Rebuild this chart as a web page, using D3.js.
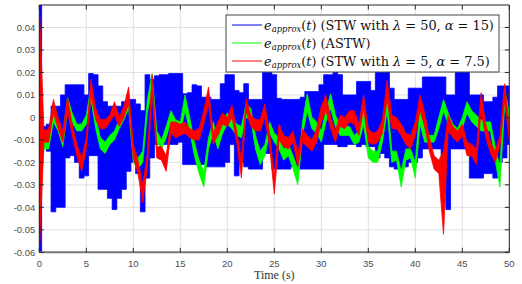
<!DOCTYPE html>
<html>
<head>
<meta charset="utf-8">
<script src="https://cdn.jsdelivr.net/npm/d3@7"></script>
<style>
  html, body { margin: 0; padding: 0; background: #fff; }
  svg { display: block; }
</style>
</head>
<body>
<div class="canvas"></div>
<script>
// time axis, one sample every 0.5 s
const time = d3.range(0, 50.001, 0.5);

// STW with lambda=50, alpha=15 : chattering band (upper / lower envelope)
const blueUpper = [
  0.05, -0.004, -0.003, 0.005, 0.005, 0.010, 0.0145, 0.0145, 0.0145, 0.0145,
  0.010, 0.0195, 0.019, 0.014, 0.007, 0.005, 0.005, 0.005, 0.007, 0.008,
  0.008, 0.006, 0.003, 0.019, 0.017, 0.0185, 0.019, 0.019, 0.0195, 0.0195,
  0.0195, 0.0105, 0.011, 0.0145, 0.014, 0.009, 0.009, 0.008, 0.008, 0.015,
  0.019, 0.019, 0.012, 0.011, 0.015, 0.008, 0.008, 0.008, 0.020, 0.020,
  0.019, 0.0085, 0.008, 0.008, 0.008, 0.008, 0.009, 0.0115, 0.0115, 0.0115,
  0.0145, 0.019, 0.019, 0.020, 0.019, 0.010, 0.010, 0.010, 0.016, 0.016,
  0.016, 0.012, 0.020, 0.020, 0.020, 0.013, 0.008, 0.008, 0.008, 0.013,
  0.013, 0.013, 0.018, 0.018, 0.018, 0.018, 0.018, 0.010, 0.010, 0.020,
  0.020, 0.020, 0.010, 0.010, 0.010, 0.007, 0.007, 0.009, 0.014, 0.014,
  0.014
];
const blueLower = [
  -0.06, -0.013, -0.015, -0.042, -0.040, -0.040, -0.018, -0.017, -0.020, -0.027,
  -0.026, -0.017, -0.017, -0.032, -0.032, -0.036, -0.041, -0.036, -0.032, -0.024,
  -0.020, -0.025, -0.042, -0.027, -0.018, -0.012, -0.012, -0.012, -0.012, -0.012,
  -0.011, -0.021, -0.021, -0.021, -0.021, -0.021, -0.022, -0.022, -0.022, -0.022,
  -0.020, -0.012, -0.026, -0.020, -0.022, -0.023, -0.023, -0.023, -0.016, -0.016,
  -0.023, -0.023, -0.023, -0.023, -0.022, -0.023, -0.023, -0.023, -0.023, -0.023,
  -0.023, -0.012, -0.012, -0.012, -0.013, -0.013, -0.012, -0.012, -0.013, -0.012,
  -0.013, -0.013, -0.018, -0.016, -0.018, -0.022, -0.023, -0.023, -0.022, -0.020,
  -0.020, -0.018, -0.014, -0.014, -0.014, -0.014, -0.030, -0.041, -0.014, -0.014,
  -0.014, -0.014, -0.027, -0.027, -0.027, -0.025, -0.025, -0.027, -0.020, -0.018,
  -0.012
];

// ASTW
const greenUpper = [
  0.000, -0.011, -0.010, 0.002, -0.002, -0.009, 0.009, 0.002, -0.003, -0.003,
  0.001, 0.014, 0.000, -0.009, -0.011, -0.008, -0.006, -0.001, 0.003, 0.009,
  -0.015, -0.018, -0.015, 0.008, 0.0195, -0.006, -0.010, -0.004, 0.003, -0.001,
  -0.002, 0.010, 0.000, -0.011, -0.019, -0.024, -0.009, -0.002, -0.009, -0.002,
  0.002, 0.000, -0.003, -0.004, 0.006, 0.004, -0.008, -0.015, -0.012, -0.002,
  -0.007, -0.009, -0.014, -0.012, -0.017, -0.023, -0.002, 0.0105, 0.000, -0.002,
  -0.006, 0.003, 0.0105, 0.001, -0.003, -0.004, -0.004, -0.008, -0.006, 0.004,
  -0.013, -0.015, -0.015, -0.006, 0.0095, -0.015, -0.015, -0.024, -0.014, -0.014,
  -0.020, 0.005, -0.005, -0.008, -0.008, 0.000, 0.008, 0.002, -0.003, -0.005,
  0.000, 0.007, 0.003, 0.001, -0.001, -0.002, -0.002, -0.013, -0.022, 0.013,
  0.002
];
const greenLower = [
  -0.035, -0.014, -0.014, -0.002, -0.006, -0.013, 0.003, -0.002, -0.006, -0.006,
  -0.003, 0.008, -0.005, -0.014, -0.016, -0.012, -0.010, -0.005, -0.001, 0.004,
  -0.020, -0.023, -0.020, 0.002, 0.013, -0.011, -0.014, -0.009, -0.002, -0.005,
  -0.007, 0.003, -0.006, -0.017, -0.025, -0.031, -0.014, -0.007, -0.014, -0.007,
  -0.003, -0.005, -0.008, -0.009, 0.000, -0.001, -0.014, -0.021, -0.017, -0.007,
  -0.011, -0.014, -0.019, -0.017, -0.023, -0.030, -0.008, 0.003, -0.005, -0.007,
  -0.011, -0.002, 0.004, -0.004, -0.008, -0.008, -0.008, -0.012, -0.011, -0.003,
  -0.018, -0.020, -0.020, -0.011, 0.003, -0.020, -0.019, -0.031, -0.019, -0.018,
  -0.027, -0.003, -0.011, -0.011, -0.011, -0.005, 0.003, -0.003, -0.008, -0.009,
  -0.005, 0.002, -0.002, -0.004, -0.006, -0.006, -0.006, -0.019, -0.031, 0.005,
  -0.003
];

// STW with lambda=5, alpha=7.5
const redUpper = [
  0.05, -0.006, -0.005, 0.008, 0.000, -0.006, 0.009, -0.003, -0.012, -0.018,
  -0.009, 0.017, 0.004, -0.001, -0.001, 0.001, 0.007, 0.000, 0.005, 0.0135,
  -0.012, -0.019, -0.030, -0.016, 0.019, -0.013, -0.013, -0.017, -0.002, -0.002,
  -0.003, -0.002, -0.005, -0.006, -0.005, 0.003, 0.0135, -0.007, -0.002, 0.002,
  0.000, 0.0055, -0.006, -0.019, 0.0085, 0.001, -0.001, -0.001, 0.006, -0.007,
  -0.026, -0.003, -0.008, -0.009, -0.006, -0.016, -0.005, -0.008, -0.010, -0.005,
  0.005, 0.010, 0.000, -0.006, 0.001, 0.000, 0.003, 0.003, -0.003, 0.010,
  -0.005, -0.007, -0.006, -0.001, 0.0165, 0.001, 0.000, -0.003, -0.007, -0.008,
  -0.002, 0.010, 0.002, -0.009, -0.017, -0.019, -0.015, 0.001, -0.004, -0.006,
  -0.003, -0.011, -0.012, -0.014, 0.011, -0.003, -0.011, -0.015, -0.008, 0.015,
  -0.004
];
const redLower = [
  -0.06, -0.011, -0.011, 0.002, -0.005, -0.011, 0.003, -0.008, -0.017, -0.024,
  -0.014, 0.010, -0.001, -0.005, -0.005, -0.002, 0.001, -0.004, 0.000, 0.006,
  -0.018, -0.025, -0.038, -0.022, 0.011, -0.018, -0.019, -0.024, -0.007, -0.009,
  -0.008, -0.007, -0.009, -0.010, -0.010, -0.003, 0.006, -0.012, -0.008, -0.003,
  -0.004, 0.000, -0.011, -0.027, 0.003, -0.004, -0.006, -0.006, 0.000, -0.013,
  -0.034, -0.010, -0.013, -0.014, -0.011, -0.022, -0.011, -0.013, -0.015, -0.011,
  -0.002, 0.003, -0.005, -0.011, -0.004, -0.005, -0.002, -0.003, -0.008, 0.004,
  -0.011, -0.012, -0.011, -0.007, 0.008, -0.005, -0.005, -0.008, -0.012, -0.014,
  -0.008, 0.003, -0.004, -0.015, -0.023, -0.025, -0.052, -0.006, -0.009, -0.011,
  -0.008, -0.017, -0.017, -0.021, 0.003, -0.009, -0.016, -0.020, -0.013, 0.007,
  -0.010
];

const xTicks = [0, 5, 10, 15, 20, 25, 30, 35, 40, 45, 50];
const xTickLabels = ["0", "5", "10", "15", "20", "25", "30", "35", "40", "45", "50"];
const yTicks = [-0.06, -0.05, -0.04, -0.03, -0.02, -0.01, 0, 0.01, 0.02, 0.03, 0.04];
const yTickLabels = ["-0.06", "-0.05", "-0.04", "-0.03", "-0.02", "-0.01", "0", "0.01", "0.02", "0.03", "0.04"];

const seriesNames = ["stw50", "astw", "stw5"];
const seriesColors = ["#0000ff", "#00ff00", "#ff0000"];
const legendLabels = ["(STW with λ = 50, α = 15)", "(ASTW)", "(STW with λ = 5, α = 7.5)"];

const dims = { width: 522, height: 284 };
const margin = { top: 5, right: 12.7, bottom: 31.7, left: 39.3 };
const plotW = dims.width - margin.left - margin.right;
const plotH = dims.height - margin.top - margin.bottom;

const svg = d3
  .select(".canvas")
  .append("svg")
  .attr("width", dims.width)
  .attr("height", dims.height);

const x = d3.scaleLinear().domain([0, 50]).range([margin.left, margin.left + plotW]);
const y = d3.scaleLinear().domain([-0.06, 0.05]).range([margin.top + plotH, margin.top]);

svg
  .append("clipPath")
  .attr("id", "plotClip")
  .append("rect")
  .attr("x", margin.left)
  .attr("y", margin.top)
  .attr("width", plotW)
  .attr("height", plotH);

// grid
const grid = svg.append("g").attr("stroke", "#e0e0e0").attr("stroke-width", 1);
grid
  .selectAll("line.gx")
  .data(xTicks)
  .join("line")
  .attr("class", "gx")
  .attr("x1", (d) => x(d))
  .attr("x2", (d) => x(d))
  .attr("y1", margin.top)
  .attr("y2", margin.top + plotH);
grid
  .selectAll("line.gy")
  .data(yTicks)
  .join("line")
  .attr("class", "gy")
  .attr("x1", margin.left)
  .attr("x2", margin.left + plotW)
  .attr("y1", (d) => y(d))
  .attr("y2", (d) => y(d));

// data
const series = [
  { upper: blueUpper, lower: blueLower, curve: d3.curveStep },
  { upper: greenUpper, lower: greenLower, curve: d3.curveLinear },
  { upper: redUpper, lower: redLower, curve: d3.curveLinear }
];

const graph = svg.append("g").attr("clip-path", "url(#plotClip)");

series.forEach((s, i) => {
  const rows = time.map((t, k) => ({ t, hi: s.upper[k], lo: s.lower[k] }));
  const area = d3
    .area()
    .x((d) => x(d.t))
    .y0((d) => y(d.lo))
    .y1((d) => y(d.hi))
    .curve(s.curve);
  graph
    .append("path")
    .datum(rows)
    .attr("class", seriesNames[i])
    .attr("d", area)
    .attr("fill", seriesColors[i])
    .attr("stroke", seriesColors[i])
    .attr("stroke-width", 0.8)
    .attr("stroke-linejoin", "round");
});

// axes box
const axisCol = "#262626";
const box = svg.append("g").attr("fill", "none");
box.append("line")
  .attr("x1", margin.left).attr("x2", margin.left + plotW)
  .attr("y1", margin.top).attr("y2", margin.top)
  .attr("stroke", axisCol).attr("stroke-width", 1);
box.append("line")
  .attr("x1", margin.left + plotW).attr("x2", margin.left + plotW)
  .attr("y1", margin.top).attr("y2", margin.top + plotH)
  .attr("stroke", axisCol).attr("stroke-width", 1);
box.append("line")
  .attr("x1", margin.left).attr("x2", margin.left)
  .attr("y1", margin.top).attr("y2", margin.top + plotH)
  .attr("stroke", axisCol).attr("stroke-width", 1);
box.append("line")
  .attr("x1", margin.left).attr("x2", margin.left + plotW)
  .attr("y1", margin.top + plotH).attr("y2", margin.top + plotH)
  .attr("stroke", "#777").attr("stroke-width", 2);

// ticks (inside, on all four sides)
const tickLen = 4.5;
const ticks = svg.append("g").attr("stroke", axisCol).attr("stroke-width", 1);
xTicks.forEach((d) => {
  ticks.append("line").attr("x1", x(d)).attr("x2", x(d))
    .attr("y1", margin.top + plotH).attr("y2", margin.top + plotH - tickLen);
  ticks.append("line").attr("x1", x(d)).attr("x2", x(d))
    .attr("y1", margin.top).attr("y2", margin.top + tickLen);
});
yTicks.forEach((d) => {
  ticks.append("line").attr("x1", margin.left).attr("x2", margin.left + tickLen)
    .attr("y1", y(d)).attr("y2", y(d));
  ticks.append("line").attr("x1", margin.left + plotW).attr("x2", margin.left + plotW - tickLen)
    .attr("y1", y(d)).attr("y2", y(d));
});

// tick labels
const labelFont = "'Liberation Sans', Arial, sans-serif";
svg.append("g")
  .selectAll("text")
  .data(xTicks)
  .join("text")
  .attr("x", (d) => x(d))
  .attr("y", margin.top + plotH + 15)
  .attr("text-anchor", "middle")
  .attr("font-family", labelFont)
  .attr("font-size", 9.5)
  .attr("fill", "#4d4d4d")
  .text((d, i) => xTickLabels[i]);

svg.append("g")
  .selectAll("text")
  .data(yTicks)
  .join("text")
  .attr("x", margin.left - 4)
  .attr("y", (d) => y(d) + 3.4)
  .attr("text-anchor", "end")
  .attr("font-family", labelFont)
  .attr("font-size", 9.5)
  .attr("fill", "#4d4d4d")
  .text((d, i) => yTickLabels[i]);

// x axis title
const serif = "'DejaVu Serif', 'Liberation Serif', serif";
svg.append("text")
  .attr("x", margin.left + plotW / 2)
  .attr("y", margin.top + plotH + 26.5)
  .attr("text-anchor", "middle")
  .attr("font-family", "'Liberation Serif', serif")
  .attr("font-size", 12)
  .attr("fill", "#333")
  .text("Time (s)");

// legend
const legend = svg.append("g").attr("transform", "translate(226,15)");
legend.append("rect")
  .attr("width", 273)
  .attr("height", 57)
  .attr("fill", "#fff")
  .attr("stroke", "#333")
  .attr("stroke-width", 0.9);

const legendTexts = [];
legendLabels.forEach((label, i) => {
  const rowY = 10 + i * 18;
  legend.append("line")
    .attr("x1", 6).attr("x2", 36)
    .attr("y1", rowY).attr("y2", rowY)
    .attr("stroke", seriesColors[i])
    .attr("stroke-width", 1);

  const txt = legend.append("text")
    .attr("x", 38)
    .attr("y", rowY + 4.5)
    .attr("font-family", serif)
    .attr("font-size", 13)
    .attr("fill", "#111");
  txt.append("tspan").attr("font-style", "italic").text("e");
  txt.append("tspan").attr("class", "sub").attr("font-style", "italic").attr("font-size", 8.5).attr("dy", 2.5).text("approx");
  txt.append("tspan").attr("dy", -2.5).text("(");
  txt.append("tspan").attr("font-style", "italic").text("t");
  txt.append("tspan").text(") ");
  label.split(/(λ|α)/).forEach((part) => {
    if (!part) return;
    const isGreek = part === "λ" || part === "α";
    txt.append("tspan")
      .attr("font-style", isGreek ? "italic" : null)
      .text(part);
  });
  legendTexts.push(txt);
});

// fit the first legend row to the width it takes in the figure
const w0 = legendTexts[0].node().getComputedTextLength();
const k = 230 / w0;
legendTexts.forEach((txt) => {
  txt.attr("font-size", 13 * k);
  txt.selectAll("tspan.sub").attr("font-size", 8.5 * k);
});
</script>
</body>
</html>
